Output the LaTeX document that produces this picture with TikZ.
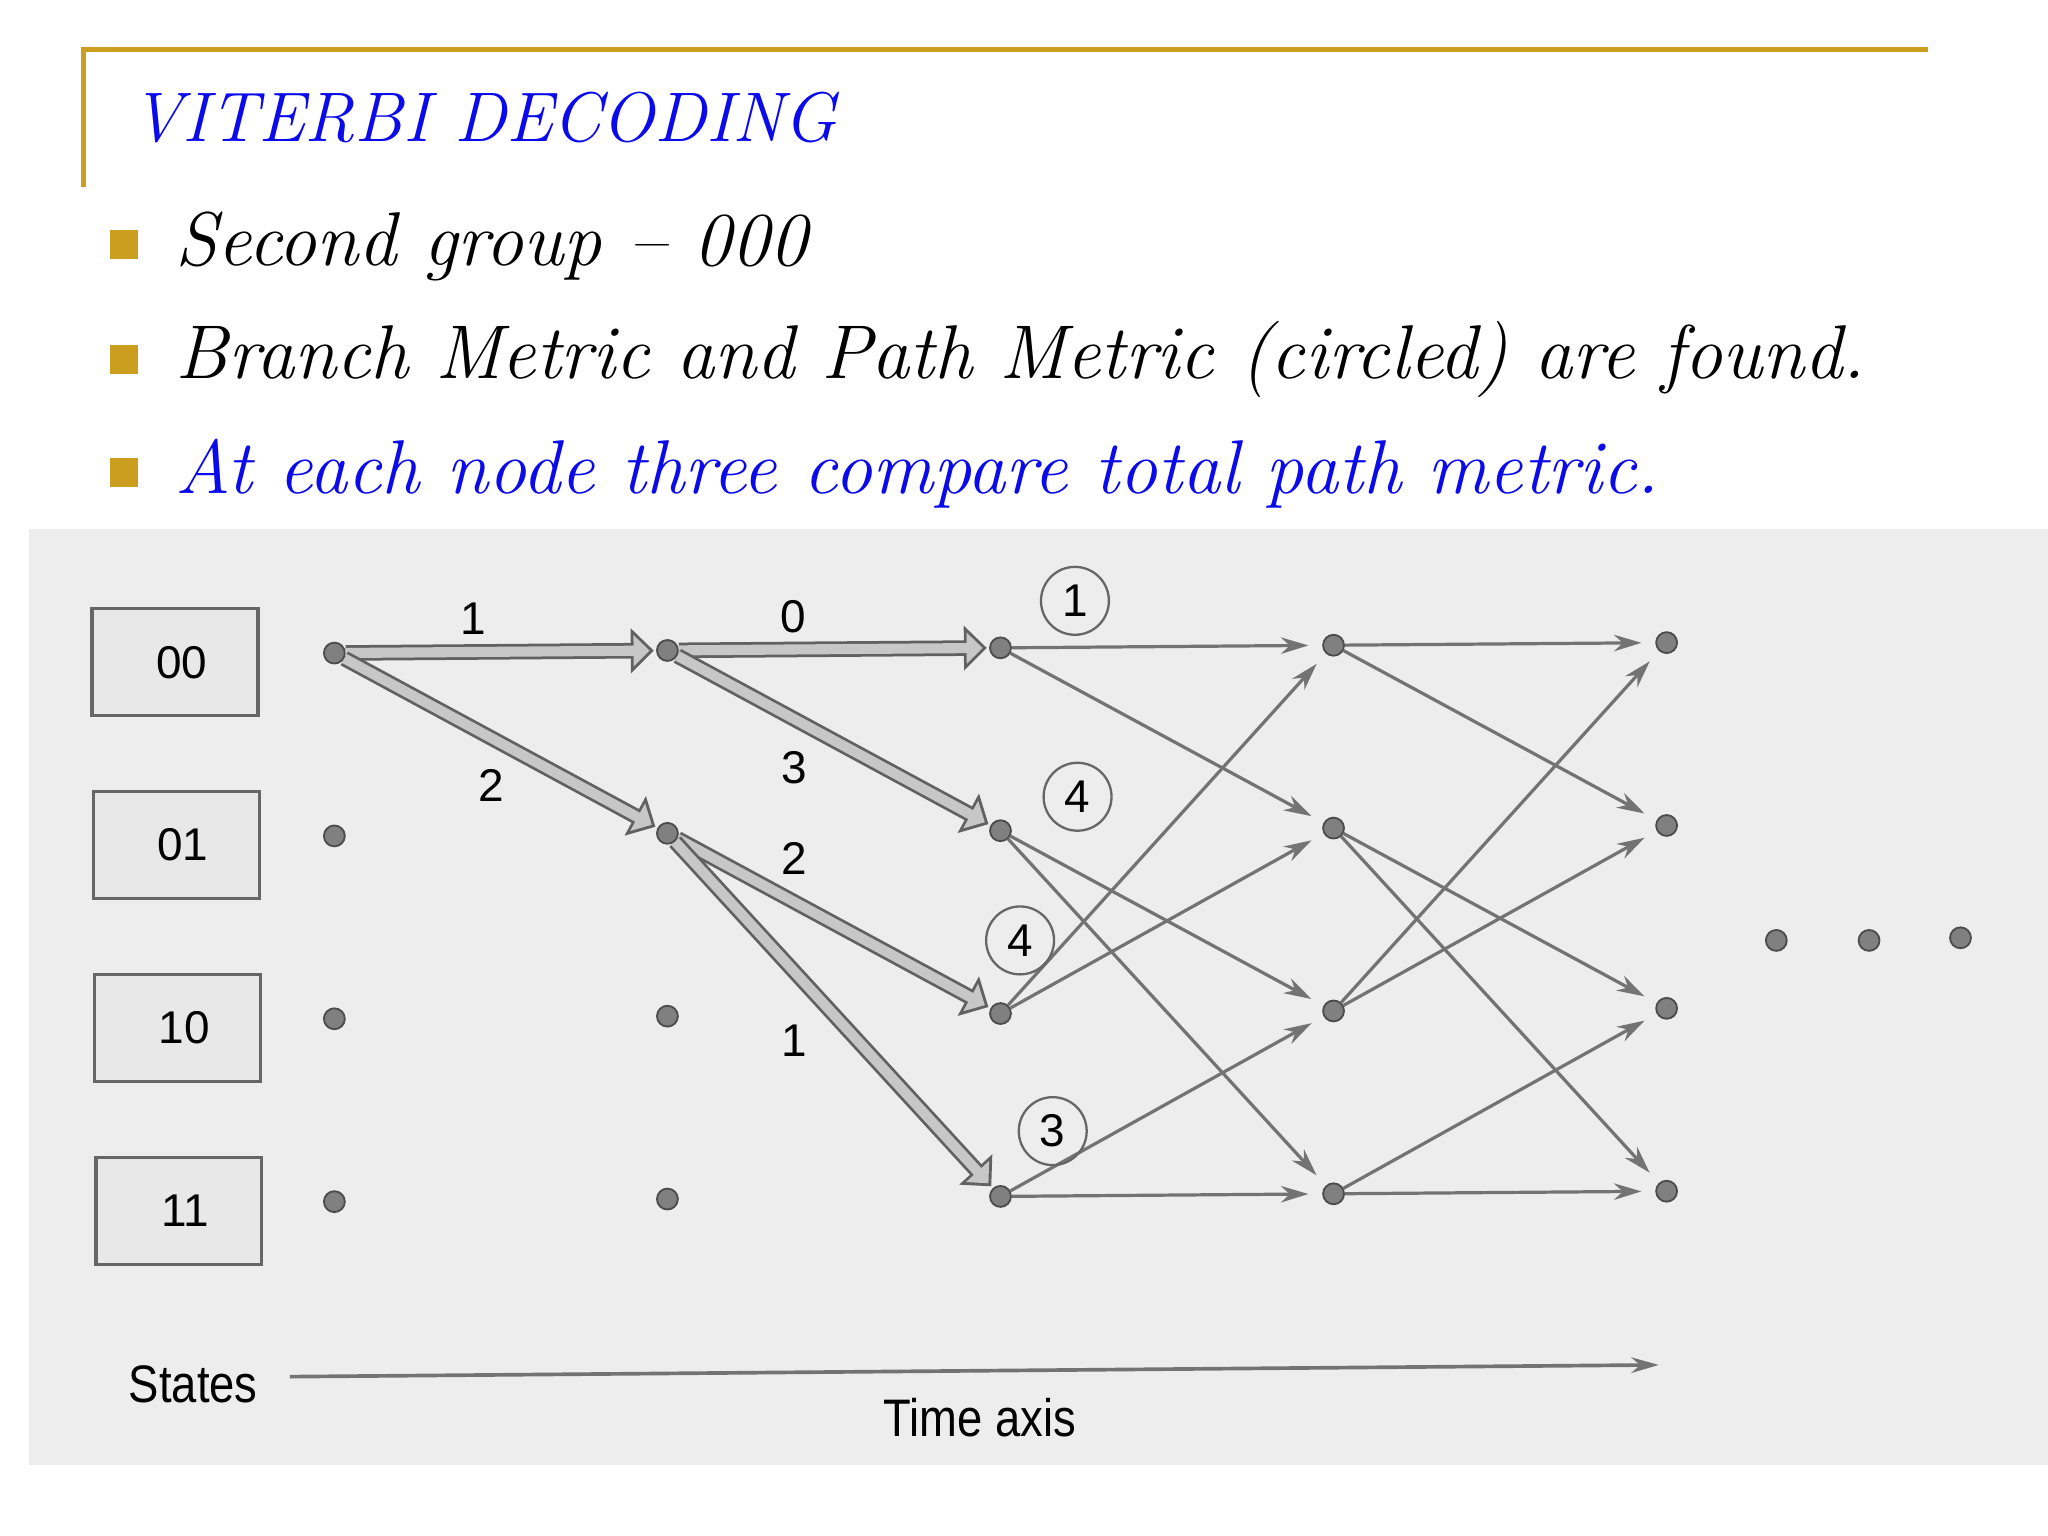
\documentclass[tikz,border=0pt]{standalone}
\usepackage{fontspec}
\usepackage{tikz}
\usetikzlibrary{arrows.meta,calc}
\newfontfamily\figfont{Liberation Sans}
\definecolor{slidegold}{RGB}{204,158,32}
\definecolor{slideblue}{RGB}{10,10,235}
\tikzset{
	dot/.style={circle, inner sep=0pt, minimum size=1.6mm, fill=black!50, draw=black!70, line width=0.4pt},
	statebox/.style={draw=black!60, fill=black!9, line width=0.7pt, minimum width=12.7mm, minimum height=8.2mm, font=\figfont\fontsize{10}{12}\selectfont},
	metric/.style={circle, draw=black!60, line width=0.5pt, minimum size=5.2mm, inner sep=0pt, font=\figfont\fontsize{10}{12}\selectfont},
	blabel/.style={font=\figfont\fontsize{10}{12}\selectfont},
	fatout/.style={line width=3.4pt, draw=black!62, -{Triangle[length=5pt,width=9.5pt]}, shorten >=0.5pt},
	fatin/.style={line width=2.2pt, draw=black!22, -{Triangle[length=3.5pt,width=6.6pt]}, shorten >=1.4pt},
	thinarrow/.style={draw=black!55, line width=0.7pt, -{Stealth[length=6pt,width=3.6pt]}, shorten >=3pt},
	sq/.style={fill=slidegold, minimum size=2.2mm, inner sep=0pt},
	slidetext/.style={anchor=base west, inner sep=0pt, font=\fontsize{16.6}{19}\selectfont\itshape}
}
\def\fatarrow(#1)(#2){\draw[fatout] (#1) -- (#2); \draw[fatin] (#1) -- (#2);}

\begin{document}
\begin{tikzpicture}[x=0.1mm, y=-0.1mm]
		%%%%% START %%%%%
		\useasboundingbox (0, 0) rectangle (1568, 1176);
		\fill[white] (0, 0) rectangle (1568, 1176);
		
		% heading
		\draw[slidegold, line width=1pt] (64, 143) -- (64, 38) -- (1476, 38);
		\node[anchor=base west, inner sep=0pt, text=slideblue, font=\fontsize{15.3}{18}\selectfont\itshape] (title) at (100, 108) {VITERBI DECODING};
		
		\node[sq] (b1) at (95, 187) {};
		\node[sq] (b2) at (95, 275) {};
		\node[sq] (b3) at (95, 362) {};
		\node[slidetext] (t1) at (134, 203) {Second group -- 000};
		\node[slidetext] (t2) at (134, 290) {Branch Metric and Path Metric (circled) are found.};
		\node[slidetext, text=slideblue] (t3) at (134, 378) {At each node three compare total path metric.};
		
		% trellis panel
		\fill[black!7] (22, 405) rectangle (1568, 1122);
		
		\node[statebox] (s00) at (134, 507) {\hspace*{1mm}00};
		\node[statebox] (s01) at (135, 647) {\hspace*{1mm}01};
		\node[statebox] (s10) at (136, 787) {\hspace*{1mm}10};
		\node[statebox] (s11) at (137, 927) {\hspace*{1mm}11};
		
		\foreach \c in {1,...,5}
			\foreach \r/\yy in {1/500, 2/640, 3/780, 4/920}
				\node[dot] (n\r\c) at ({256+255*(\c-1)}, {\yy-2*(\c-1)}) {};
		
		\node[dot] (e1) at (1360, 720) {};
		\node[dot] (e2) at (1431, 720) {};
		\node[dot] (e3) at (1501, 718) {};
		
		% survivors so far
		\fatarrow(n11)(n12)
		\fatarrow(n11)(n22)
		\fatarrow(n12)(n13)
		\fatarrow(n12)(n23)
		\fatarrow(n22)(n33)
		\fatarrow(n22)(n43)
		
		% remaining branches
		\foreach \c/\d in {3/4, 4/5} {
			\draw[thinarrow] (n1\c) -- (n1\d);
			\draw[thinarrow] (n1\c) -- (n2\d);
			\draw[thinarrow] (n2\c) -- (n3\d);
			\draw[thinarrow] (n2\c) -- (n4\d);
			\draw[thinarrow] (n3\c) -- (n1\d);
			\draw[thinarrow] (n3\c) -- (n2\d);
			\draw[thinarrow] (n4\c) -- (n3\d);
			\draw[thinarrow] (n4\c) -- (n4\d);
		}
		
		\node[blabel] (bm1) at (362, 474) {1};
		\node[blabel] (bm2) at (607, 472) {0};
		\node[blabel] (bm3) at (376, 601) {2};
		\node[blabel] (bm4) at (608, 588) {3};
		\node[blabel] (bm5) at (608, 657) {2};
		\node[blabel] (bm6) at (608, 797) {1};
		
		\node[metric] (pm00) at (823, 460) {1};
		\node[metric] (pm01) at (825, 610) {4};
		\node[metric] (pm10) at (781, 720) {4};
		\node[metric] (pm11) at (806, 866) {3};
		
		% axis
		\node[blabel, font=\figfont\fontsize{11.5}{13}\selectfont] (states) at (148, 1060) {\scalebox{0.86}[1]{States}};
		\node[blabel, font=\figfont\fontsize{11.5}{13}\selectfont] (taxis) at (750, 1085) {\scalebox{0.86}[1]{Time axis}};
		\coordinate (tstart) at (222, 1054);
		\coordinate (tend) at (1270, 1045);
		\draw[draw=black!55, line width=0.8pt, -{Stealth[length=6pt,width=3.4pt]}] (tstart) -- (tend);
		%%%%% END %%%%%
\end{tikzpicture}
\end{document}
